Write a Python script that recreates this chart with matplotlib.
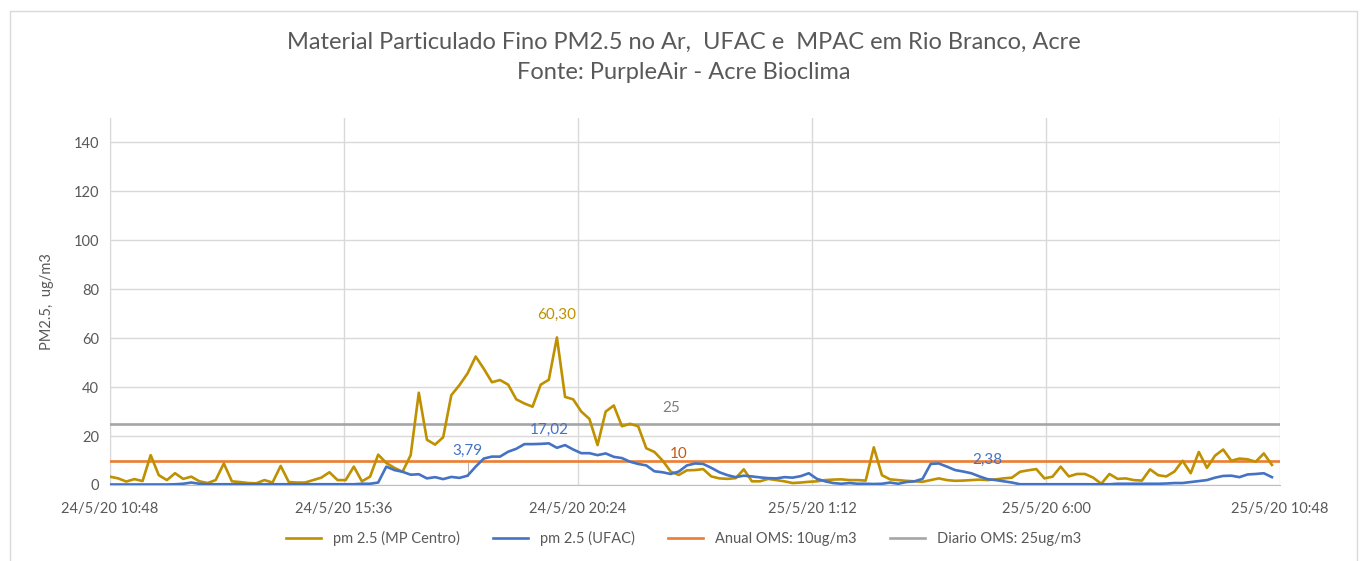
import matplotlib
matplotlib.use("Agg")
import matplotlib.pyplot as plt
import matplotlib.dates as mdates
from matplotlib.patches import Rectangle
import pandas as pd

# ── data (10-min readings) ───────────────────────────────────────────
start = "2020-05-24 10:48"

mp_centro = [
    3.4, 2.7, 1.4, 2.4, 1.6, 12.2, 4.0, 2.0, 4.8, 2.5,
    3.4, 1.5, 0.8, 2.0, 8.8, 1.5, 1.2, 0.8, 0.7, 2.0,
    1.0, 7.8, 1.2, 1.0, 1.0, 2.0, 3.0, 5.2, 2.0, 2.0,
    7.5, 1.5, 3.4, 12.4, 9.0, 7.0, 5.4, 12.2, 37.7, 18.5,
    16.5, 19.5, 36.7, 40.8, 45.6, 52.5, 47.5, 42.0, 42.9, 41.0,
    35.0, 33.3, 32.0, 41.0, 43.0, 60.3, 36.0, 35.0, 30.0, 27.0,
    16.3, 30.0, 32.5, 24.0, 25.0, 24.0, 15.0, 13.5, 10.0, 5.5,
    4.1, 6.0, 6.1, 6.5, 3.5, 2.7, 2.5, 2.8, 6.4, 1.5,
    1.5, 2.5, 2.0, 1.5, 0.8, 1.0, 1.3, 1.5, 2.0, 2.2,
    2.3, 2.0, 2.0, 1.8, 15.4, 4.0, 2.3, 2.0, 1.7, 1.5,
    1.3, 2.0, 2.7, 2.0, 1.7, 1.8, 2.0, 2.2, 2.0, 2.3,
    2.7, 3.0, 5.4, 6.0, 6.5, 2.7, 3.4, 7.5, 3.5, 4.5,
    4.5, 3.0, 0.5, 4.5, 2.5, 2.7, 2.0, 1.8, 6.4, 4.0,
    3.5, 5.5, 9.9, 4.8, 13.5, 7.0, 12.0, 14.5, 9.9, 10.8,
    10.5, 9.5, 12.9, 8.2,
]

ufac = [
    0.2, 0.2, 0.2, 0.2, 0.2, 0.2, 0.2, 0.2, 0.3, 0.5,
    1.0, 0.5, 0.3, 0.3, 0.3, 0.3, 0.3, 0.3, 0.3, 0.3,
    0.3, 0.3, 0.3, 0.3, 0.3, 0.3, 0.3, 0.3, 0.3, 0.3,
    0.3, 0.5, 0.5, 1.0, 7.5, 6.1, 5.4, 4.2, 4.4, 2.7,
    3.2, 2.4, 3.3, 2.9, 3.79, 7.5, 10.8, 11.6, 11.6, 13.6,
    14.8, 16.7, 16.7, 16.8, 17.02, 15.2, 16.3, 14.5, 13.0, 13.0,
    12.2, 12.9, 11.5, 11.0, 9.5, 8.6, 8.0, 5.6, 5.2, 4.5,
    5.5, 8.0, 8.8, 8.6, 7.0, 5.2, 4.0, 3.2, 3.8, 3.5,
    3.1, 2.8, 2.7, 3.2, 3.0, 3.6, 4.8, 2.5, 1.5, 0.8,
    0.5, 0.8, 0.5, 0.5, 0.4, 0.5, 1.0, 0.5, 1.2, 1.5,
    2.5, 8.6, 8.8, 7.5, 6.1, 5.5, 4.8, 3.5, 2.38, 2.0,
    1.5, 1.0, 0.3, 0.3, 0.3, 0.3, 0.3, 0.3, 0.3, 0.3,
    0.3, 0.3, 0.3, 0.3, 0.5, 0.5, 0.5, 0.5, 0.5, 0.5,
    0.6, 0.8, 0.8, 1.2, 1.6, 2.0, 3.0, 3.7, 3.8, 3.2,
    4.3, 4.5, 4.8, 3.2,
]

anual_oms = 10
diario_oms = 25

# labelled points: (series index, text)
mp_labels = [(55, "60,30")]
ufac_labels = [(44, "3,79"), (54, "17,02"), (108, "2,38")]

series_names = ["pm 2.5 (MP Centro)", "pm 2.5 (UFAC)",
                "Anual OMS: 10ug/m3", "Diario OMS: 25ug/m3"]
title = ("Material Particulado Fino PM2.5 no Ar,  UFAC e  MPAC em Rio Branco, Acre\n"
         "Fonte: PurpleAir - Acre Bioclima")

GOLD = "#BF9000"
BLUE = "#4472C4"
ORANGE = "#ED7D31"
GREY = "#A5A5A5"
TXT = "#595959"

plt.rcParams["font.family"] = ["Lato", "DejaVu Sans"]

times = pd.date_range(start, periods=len(mp_centro), freq="10min")
t0 = pd.Timestamp(start)
t1 = t0 + pd.Timedelta(hours=24)

fig = plt.figure(figsize=(13.67, 5.61), dpi=100)
fig.patches.append(Rectangle((0.007, -0.01), 0.986, 0.99, transform=fig.transFigure,
                             fill=False, edgecolor="#D9D9D9", linewidth=1))
ax = fig.add_axes([0.0805, 0.1355, 0.8559, 0.6542])

ax.plot(times, mp_centro, color=GOLD, lw=1.9, label=series_names[0], zorder=4)
ax.plot(times, ufac, color=BLUE, lw=1.9, label=series_names[1], zorder=4)
ax.plot([t0, t1], [anual_oms, anual_oms], color=ORANGE, lw=1.9, label=series_names[2], zorder=3)
ax.plot([t0, t1], [diario_oms, diario_oms], color=GREY, lw=1.9, label=series_names[3], zorder=3)

for i, txt in mp_labels:
    ax.annotate(txt, (times[i], mp_centro[i]), xytext=(0, 11), textcoords="offset points",
                ha="center", va="bottom", color=GOLD, fontsize=11)
for i, txt in ufac_labels:
    off = {44: 13, 54: 5, 108: 9}[i]
    ax.annotate(txt, (times[i], ufac[i]), xytext=(0, off), textcoords="offset points",
                ha="center", va="bottom", color=BLUE, fontsize=11)
ax.plot([times[44], times[44]], [ufac[44], ufac[44] + 5], color="#A6A6A6", lw=0.6, zorder=2)

mid = t0 + pd.Timedelta(minutes=690)
ax.annotate(str(diario_oms), (mid, diario_oms), xytext=(0, 6), textcoords="offset points",
            ha="center", va="bottom", color="#7F7F7F", fontsize=11)
ax.annotate(str(anual_oms), (mid + pd.Timedelta(minutes=10), anual_oms), xytext=(0, 0),
            textcoords="offset points", ha="center", va="bottom", color="#C55A11", fontsize=11)

ax.set_xlim(t0, t1)
ax.set_ylim(0, 150)
ax.set_yticks(range(0, 141, 20))
ax.set_xticks([t0 + pd.Timedelta(minutes=288 * k) for k in range(6)])
ax.xaxis.set_major_formatter(plt.FuncFormatter(
    lambda v, p: (lambda d: f"{d.day}/{d.month}/{d.strftime('%y')} {d.hour}:{d.minute:02d}")(mdates.num2date(v))))

ax.grid(True, color="#D9D9D9", lw=1)
ax.set_axisbelow(True)
for s in ["top", "right"]:
    ax.spines[s].set_visible(False)
ax.spines["left"].set_color("#D9D9D9")
ax.spines["bottom"].set_color("#BFBFBF")
ax.tick_params(length=0, labelsize=10.5, colors=TXT, pad=8)
ax.tick_params(axis="x", pad=12)
ax.set_ylabel("PM2.5,  ug/m3", fontsize=10.5, color=TXT, labelpad=14)

fig.text(0.5, 0.943, title, ha="center", va="top", fontsize=17, color=TXT, linespacing=1.55)

fig.legend(loc="lower center", bbox_to_anchor=(0.5, 0.003), ncol=4, frameon=False,
           fontsize=10.5, labelcolor=TXT, handlelength=2.4, columnspacing=2.3)

fig.savefig("out.png", dpi=100, facecolor="white")
